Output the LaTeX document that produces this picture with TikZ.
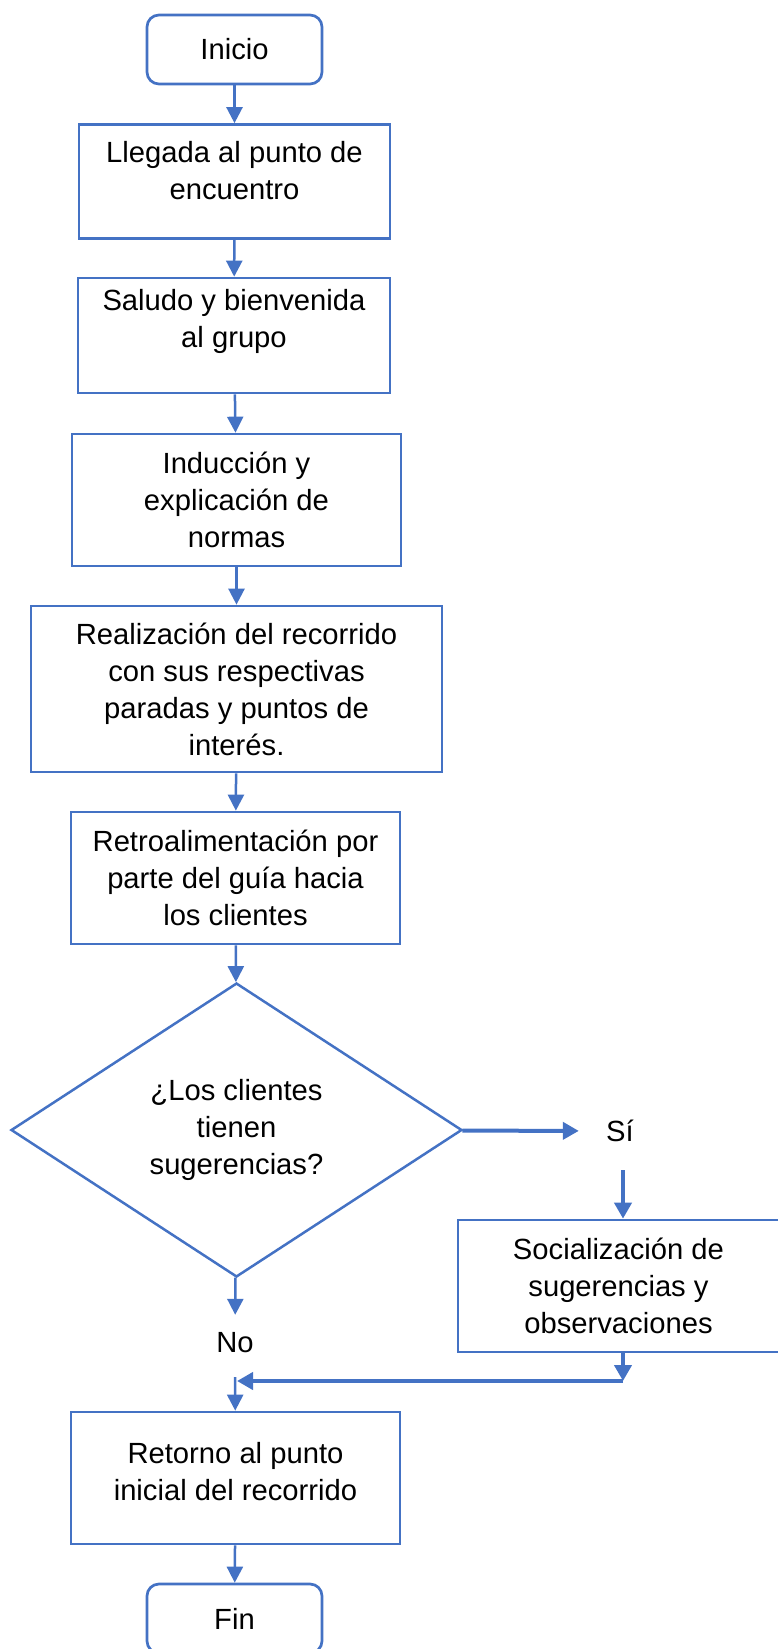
\documentclass[tikz,border=0pt]{standalone}
\usepackage{fontspec}
\setmainfont{Liberation Sans}
\usetikzlibrary{shapes.geometric,arrows.meta}
\definecolor{flowblue}{HTML}{4472C4}
\begin{document}
\begin{tikzpicture}[x=1pt, y=1pt,
  font=\fontsize{29.2}{37}\selectfont,
  proc/.style={shape=rectangle, draw=flowblue, line width=2.7pt, align=center, inner sep=0pt},
  term/.style={proc, rounded corners=12pt, minimum width=175pt, minimum height=69pt},
  decis/.style={shape=diamond, draw=flowblue, line width=2.5pt, align=center, inner sep=0pt, aspect=1.53},
  lbl/.style={shape=rectangle, inner sep=0pt},
  flow/.style={-{Triangle[length=16pt,width=16pt]}, line width=2.5pt, color=flowblue},
  bigflow/.style={-{Triangle[length=16pt,width=17pt]}, line width=4pt, color=flowblue}]
\useasboundingbox (0,0) rectangle (778,-1649);
\node[term] (inicio) at (234.5,-49.5) {Inicio};
\node[proc, minimum width=311pt, minimum height=114pt] (llegada) at (234.5,-181.5) {Llegada al punto de\\encuentro\\[-15pt]};
\node[proc, minimum width=312pt, minimum height=115pt] (saludo) at (234,-335.5) {Saludo y bienvenida\\al grupo\\[-2pt]};
\node[proc, minimum width=329pt, minimum height=132pt] (induccion) at (236.5,-500) {Inducción y\\explicación de\\normas};
\node[proc, minimum width=411pt, minimum height=166pt] (realizacion) at (236.5,-689) {Realización del recorrido\\con sus respectivas\\paradas y puntos de\\interés.};
\node[proc, minimum width=329pt, minimum height=132pt] (retro) at (235.5,-878) {Retroalimentación por\\parte del guía hacia\\los clientes};
\node[decis, minimum width=451pt, minimum height=294pt] (dec) at (236.5,-1130) {¿Los clientes\\tienen\\sugerencias?};
\node[lbl, minimum width=82pt, minimum height=78pt] (si) at (620,-1131) {Sí};
\node[proc, minimum width=321pt, minimum height=132pt] (soc) at (618.5,-1286) {Socialización de\\sugerencias y\\observaciones};
\node[lbl, minimum height=56pt] (no) at (235,-1343) {No};
\node[proc, minimum width=329pt, minimum height=132pt] (ret) at (235.5,-1478) {Retorno al punto\\inicial del recorrido\\[-24pt]};
\node[term] (fin) at (234.5,-1618.5) {Fin};
\coordinate (j1) at (623,-1381);
\coordinate (j2) at (237,-1381);
% main line
\path [flow] (inicio) edge (llegada);
\path [flow] (llegada) edge (saludo);
\path [flow] (saludo) edge (induccion);
\path [flow] (induccion) edge (realizacion);
\path [flow] (realizacion) edge (retro);
\path [flow] (retro) edge (dec);
% branches
\path [bigflow] (dec) edge (si);
\path [bigflow] (si.south -| j1) edge (soc.north -| j1);
\path [flow] (dec) edge (no);
\path [bigflow] (soc.south -| j1) edge (j1);
\path [bigflow] (j1) edge (j2);
\path [flow] (no) edge[shorten <=6pt] (ret);
\path [flow] (ret) edge (fin);
\end{tikzpicture}
\end{document}
